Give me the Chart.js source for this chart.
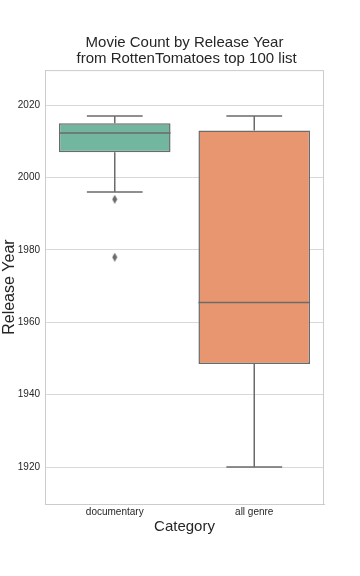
<!DOCTYPE html>
<html>
<head>
<meta charset="utf-8">
<script src="https://cdn.jsdelivr.net/npm/chart.js@4/dist/chart.umd.min.js"></script>
<style>
  html, body { margin: 0; padding: 0; background: #fff; }
  #wrap { width: 360px; height: 576px; }
</style>
</head>
<body>
<div id="wrap"><canvas id="c" width="360" height="576"></canvas></div>
<script>
// values
const categories = ['documentary', 'all genre'];
const q1 = [2007, 1948.5];
const q3 = [2015, 2013];
const medians = [2012.3, 1965.5];
const whiskerLow = [1996, 1920];
const whiskerHigh = [2017, 2017];
const outlierCat = ['documentary', 'documentary'];
const outlierVal = [1994, 1978];
const yTicks = [1920, 1940, 1960, 1980, 2000, 2020];

const boxColors = ['#72b6a0', '#e8966f'];
const edge = '#6b6b6b';
const FONT = '"Liberation Sans", Arial, sans-serif';

// tall diamond marker like seaborn's fliers
const diamond = document.createElement('canvas');
diamond.width = 6;
diamond.height = 9;
(function () {
    const d = diamond.getContext('2d');
    d.fillStyle = edge;
    d.beginPath();
    d.moveTo(3, 0);
    d.lineTo(5.5, 4.5);
    d.lineTo(3, 9);
    d.lineTo(0.5, 4.5);
    d.closePath();
    d.fill();
})();

// whiskers, caps, medians, frame
const boxPlugin = {
    id: 'boxParts',
    afterDatasetsDraw: function (chart) {
        const ctx = chart.ctx;
        const y = chart.scales.y;
        const meta = chart.getDatasetMeta(0);
        ctx.save();
        ctx.strokeStyle = edge;
        ctx.lineWidth = 1.5;
        meta.data.forEach((bar, i) => {
            const x = bar.x;
            const hw = bar.width / 2;
            const cw = bar.width / 4;
            ctx.beginPath();
            // upper whisker
            ctx.moveTo(x, y.getPixelForValue(q3[i]));
            ctx.lineTo(x, y.getPixelForValue(whiskerHigh[i]));
            ctx.moveTo(x - cw, y.getPixelForValue(whiskerHigh[i]));
            ctx.lineTo(x + cw, y.getPixelForValue(whiskerHigh[i]));
            // lower whisker
            ctx.moveTo(x, y.getPixelForValue(q1[i]));
            ctx.lineTo(x, y.getPixelForValue(whiskerLow[i]));
            ctx.moveTo(x - cw, y.getPixelForValue(whiskerLow[i]));
            ctx.lineTo(x + cw, y.getPixelForValue(whiskerLow[i]));
            // median
            ctx.moveTo(x - hw, y.getPixelForValue(medians[i]));
            ctx.lineTo(x + hw, y.getPixelForValue(medians[i]));
            ctx.stroke();
        });
        const a = chart.chartArea;
        ctx.strokeStyle = '#cccccc';
        ctx.lineWidth = 1;
        ctx.strokeRect(a.left + 0.5, a.top + 0.5, a.right - a.left - 1, a.bottom - a.top);
        ctx.restore();
    }
};

new Chart(document.getElementById('c'), {
    type: 'bar',
    data: {
        labels: categories,
        datasets: [{
            data: categories.map((c, i) => [q1[i], q3[i]]),
            backgroundColor: boxColors,
            borderColor: edge,
            borderWidth: 1.5,
            borderSkipped: false,
            barPercentage: 0.8,
            categoryPercentage: 1.0
        }, {
            type: 'line',
            showLine: false,
            data: outlierVal.map((v, i) => ({ x: outlierCat[i], y: v })),
            pointStyle: diamond,
            pointRadius: 4
        }]
    },
    options: {
        responsive: false,
        animation: false,
        devicePixelRatio: 1,
        layout: { padding: { left: 0, right: 36, top: 0, bottom: 40 } },
        plugins: {
            legend: { display: false },
            tooltip: { enabled: false },
            title: {
                display: true,
                fullSize: false,
                text: ['Movie Count by Release Year', ' from RottenTomatoes top 100 list'],
                color: '#262626',
                font: { family: FONT, size: 15, weight: 'normal', lineHeight: 1.07 },
                padding: { top: 35, bottom: 3 }
            }
        },
        scales: {
            x: {
                grid: { display: false, drawTicks: false },
                border: { display: true, color: '#cccccc' },
                ticks: { color: '#262626', font: { family: FONT, size: 10 }, padding: 2 },
                title: {
                    display: true, text: 'Category', color: '#262626',
                    font: { family: FONT, size: 15 }, padding: { top: 0, bottom: 0 }
                },
                afterFit: function (s) { s.height = 32; }
            },
            y: {
                min: 1909.8,
                max: 2029.7,
                afterBuildTicks: function (s) { s.ticks = yTicks.map(v => ({ value: v })); },
                grid: { color: '#d9d9d9', lineWidth: 1, drawTicks: false },
                border: { display: true, color: '#cccccc' },
                ticks: {
                    color: '#262626', font: { family: FONT, size: 10 }, padding: 5,
                    callback: function (v) { return String(v); }
                },
                title: {
                    display: true, text: 'Release Year', color: '#262626',
                    font: { family: FONT, size: 16 }, padding: { top: 0, bottom: 0 }
                },
                afterFit: function (s) { s.width = 45; }
            }
        }
    },
    plugins: [boxPlugin]
});
</script>
</body>
</html>
